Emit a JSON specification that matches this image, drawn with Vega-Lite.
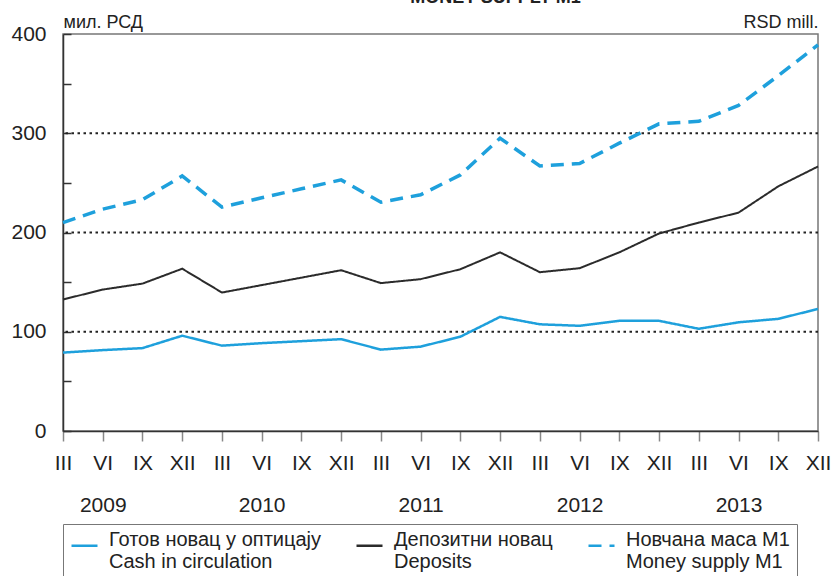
{
  "$schema": "https://vega.github.io/schema/vega-lite/v6.json",
  "width": 755,
  "height": 397,
  "autosize": {"type": "none"},
  "padding": {"left": 63, "top": 34, "right": 13, "bottom": 145},
  "title": {"text": "MONEY SUPPLY M1", "fontSize": 18, "fontWeight": "bold", "color": "#222", "anchor": "middle", "frame": "group", "dx": 55, "dy": 8, "baseline": "alphabetic", "offset": 0},
  "config": {
    "font": "Liberation Sans",
    "view": {"stroke": "#777", "strokeWidth": 1.5},
    "axis": {"labelFont": "Liberation Sans", "titleFont": "Liberation Sans", "labelColor": "#222", "titleColor": "#222"},
    "legend": {"labelFont": "Liberation Sans"}
  },
  "layer": [
    {
      "data": {"values": [{"g": 100}, {"g": 200}, {"g": 300}]},
      "mark": {"type": "rule", "color": "#222", "strokeWidth": 2, "strokeDash": [2.5, 3.5]},
      "encoding": {
        "y": {"field": "g", "type": "quantitative", "scale": {"domain": [0, 400], "nice": false},
          "axis": {"orient": "right", "title": "RSD mill.", "titleAngle": 0, "titleAlign": "right", "titleBaseline": "alphabetic", "titleX": 0, "titleY": -7, "titleFontSize": 18, "titleFontWeight": "normal", "labels": false, "ticks": false, "domain": false, "grid": false}}
      }
    },
    {
      "data": {"values": [
        {"t": "2009-III", "s": "Готов новац у оптицају|Cash in circulation", "v": 79},
        {"t": "2009-VI", "s": "Готов новац у оптицају|Cash in circulation", "v": 81.5},
        {"t": "2009-IX", "s": "Готов новац у оптицају|Cash in circulation", "v": 83.5},
        {"t": "2009-XII", "s": "Готов новац у оптицају|Cash in circulation", "v": 96},
        {"t": "2010-III", "s": "Готов новац у оптицају|Cash in circulation", "v": 86},
        {"t": "2010-VI", "s": "Готов новац у оптицају|Cash in circulation", "v": 88.5},
        {"t": "2010-IX", "s": "Готов новац у оптицају|Cash in circulation", "v": 90.5},
        {"t": "2010-XII", "s": "Готов новац у оптицају|Cash in circulation", "v": 92.5},
        {"t": "2011-III", "s": "Готов новац у оптицају|Cash in circulation", "v": 82},
        {"t": "2011-VI", "s": "Готов новац у оптицају|Cash in circulation", "v": 85},
        {"t": "2011-IX", "s": "Готов новац у оптицају|Cash in circulation", "v": 95},
        {"t": "2011-XII", "s": "Готов новац у оптицају|Cash in circulation", "v": 115},
        {"t": "2012-III", "s": "Готов новац у оптицају|Cash in circulation", "v": 107.5},
        {"t": "2012-VI", "s": "Готов новац у оптицају|Cash in circulation", "v": 106},
        {"t": "2012-IX", "s": "Готов новац у оптицају|Cash in circulation", "v": 111},
        {"t": "2012-XII", "s": "Готов новац у оптицају|Cash in circulation", "v": 111},
        {"t": "2013-III", "s": "Готов новац у оптицају|Cash in circulation", "v": 103},
        {"t": "2013-VI", "s": "Готов новац у оптицају|Cash in circulation", "v": 109.5},
        {"t": "2013-IX", "s": "Готов новац у оптицају|Cash in circulation", "v": 113},
        {"t": "2013-XII", "s": "Готов новац у оптицају|Cash in circulation", "v": 123},
        {"t": "2009-III", "s": "Депозитни новац|Deposits", "v": 132.5},
        {"t": "2009-VI", "s": "Депозитни новац|Deposits", "v": 142.5},
        {"t": "2009-IX", "s": "Депозитни новац|Deposits", "v": 148.5},
        {"t": "2009-XII", "s": "Депозитни новац|Deposits", "v": 163.5},
        {"t": "2010-III", "s": "Депозитни новац|Deposits", "v": 139.5},
        {"t": "2010-VI", "s": "Депозитни новац|Deposits", "v": 147},
        {"t": "2010-IX", "s": "Депозитни новац|Deposits", "v": 154.5},
        {"t": "2010-XII", "s": "Депозитни новац|Deposits", "v": 162},
        {"t": "2011-III", "s": "Депозитни новац|Deposits", "v": 149},
        {"t": "2011-VI", "s": "Депозитни новац|Deposits", "v": 153},
        {"t": "2011-IX", "s": "Депозитни новац|Deposits", "v": 163},
        {"t": "2011-XII", "s": "Депозитни новац|Deposits", "v": 180},
        {"t": "2012-III", "s": "Депозитни новац|Deposits", "v": 160},
        {"t": "2012-VI", "s": "Депозитни новац|Deposits", "v": 164},
        {"t": "2012-IX", "s": "Депозитни новац|Deposits", "v": 180},
        {"t": "2012-XII", "s": "Депозитни новац|Deposits", "v": 199},
        {"t": "2013-III", "s": "Депозитни новац|Deposits", "v": 210},
        {"t": "2013-VI", "s": "Депозитни новац|Deposits", "v": 220},
        {"t": "2013-IX", "s": "Депозитни новац|Deposits", "v": 246.5},
        {"t": "2013-XII", "s": "Депозитни новац|Deposits", "v": 266.5},
        {"t": "2009-III", "s": "Новчана маса М1|Money supply M1", "v": 210},
        {"t": "2009-VI", "s": "Новчана маса М1|Money supply M1", "v": 223.5},
        {"t": "2009-IX", "s": "Новчана маса М1|Money supply M1", "v": 233},
        {"t": "2009-XII", "s": "Новчана маса М1|Money supply M1", "v": 257},
        {"t": "2010-III", "s": "Новчана маса М1|Money supply M1", "v": 225.5},
        {"t": "2010-VI", "s": "Новчана маса М1|Money supply M1", "v": 235},
        {"t": "2010-IX", "s": "Новчана маса М1|Money supply M1", "v": 244},
        {"t": "2010-XII", "s": "Новчана маса М1|Money supply M1", "v": 253},
        {"t": "2011-III", "s": "Новчана маса М1|Money supply M1", "v": 230.5},
        {"t": "2011-VI", "s": "Новчана маса М1|Money supply M1", "v": 238},
        {"t": "2011-IX", "s": "Новчана маса М1|Money supply M1", "v": 258},
        {"t": "2011-XII", "s": "Новчана маса М1|Money supply M1", "v": 295},
        {"t": "2012-III", "s": "Новчана маса М1|Money supply M1", "v": 267},
        {"t": "2012-VI", "s": "Новчана маса М1|Money supply M1", "v": 269.5},
        {"t": "2012-IX", "s": "Новчана маса М1|Money supply M1", "v": 290},
        {"t": "2012-XII", "s": "Новчана маса М1|Money supply M1", "v": 309.5},
        {"t": "2013-III", "s": "Новчана маса М1|Money supply M1", "v": 312},
        {"t": "2013-VI", "s": "Новчана маса М1|Money supply M1", "v": 328},
        {"t": "2013-IX", "s": "Новчана маса М1|Money supply M1", "v": 358},
        {"t": "2013-XII", "s": "Новчана маса М1|Money supply M1", "v": 389}
      ]},
      "encoding": {
        "x": {"field": "t", "type": "ordinal", "sort": null, "scale": {"type": "point", "padding": 0},
          "axis": {"title": null, "tickSize": 10, "tickColor": "#888", "tickWidth": 1.5, "domainColor": "#333", "domainWidth": 1.5, "labelFontSize": 21, "labelPadding": 11, "labelBaseline": "top", "labelLineHeight": 42, "labelAngle": 0, "labelOverlap": false, "grid": false,
            "labelExpr": "split(datum.value,'-')[1] == 'VI' ? [split(datum.value,'-')[1], split(datum.value,'-')[0]] : split(datum.value,'-')[1]"}},
        "y": {"field": "v", "type": "quantitative", "scale": {"domain": [0, 400], "nice": false},
          "axis": {"values": [0, 50, 100, 150, 200, 250, 300, 350, 400], "labelExpr": "datum.value % 100 == 0 ? datum.label : ''", "tickSize": -8, "tickColor": "#333", "tickWidth": 1.5, "labelFontSize": 21, "labelPadding": 25, "domainColor": "#333", "domainWidth": 1.5, "grid": false,
            "title": "мил. РСД", "titleAngle": 0, "titleAlign": "left", "titleBaseline": "alphabetic", "titleX": 0, "titleY": -7, "titleFontSize": 18, "titleFontWeight": "normal"}},
        "color": {"field": "s", "type": "nominal",
          "scale": {"domain": ["Готов новац у оптицају|Cash in circulation", "Депозитни новац|Deposits", "Новчана маса М1|Money supply M1"], "range": ["#1ea0dc", "#2b2b2b", "#1ea0dc"]},
          "legend": {"title": null, "orient": "none", "legendX": 0, "legendY": 490, "direction": "horizontal", "columns": 3, "labelExpr": "split(datum.label,'|')", "labelFontSize": 20, "labelLineHeight": 22, "labelBaseline": "alphabetic", "labelLimit": 400, "labelColor": "#222", "symbolType": "stroke", "symbolSize": 676, "symbolStrokeWidth": 2.5, "labelOffset": 10, "columnPadding": 30, "strokeColor": "#777", "padding": 7}},
        "strokeDash": {"field": "s", "type": "nominal",
          "scale": {"domain": ["Готов новац у оптицају|Cash in circulation", "Депозитни новац|Deposits", "Новчана маса М1|Money supply M1"], "range": [[1, 0], [1, 0], [13, 8]]},
          "legend": {"title": null, "orient": "none", "legendX": 0, "legendY": 490, "direction": "horizontal", "columns": 3, "labelExpr": "split(datum.label,'|')", "labelFontSize": 20, "labelLineHeight": 22, "labelBaseline": "alphabetic", "labelLimit": 400, "labelColor": "#222", "symbolType": "stroke", "symbolSize": 676, "symbolStrokeWidth": 2.5, "labelOffset": 10, "columnPadding": 30, "strokeColor": "#777", "padding": 7}}
      },
      "layer": [
        {"transform": [{"filter": "datum.s == 'Готов новац у оптицају|Cash in circulation'"}], "mark": {"type": "line", "strokeWidth": 2.5, "strokeJoin": "miter"}},
        {"transform": [{"filter": "datum.s == 'Депозитни новац|Deposits'"}], "mark": {"type": "line", "strokeWidth": 2, "strokeJoin": "miter"}},
        {"transform": [{"filter": "datum.s == 'Новчана маса М1|Money supply M1'"}], "mark": {"type": "line", "strokeWidth": 3.5, "strokeJoin": "miter"}}
      ]
    }
  ],
  "resolve": {"axis": {"y": "independent"}}
}
